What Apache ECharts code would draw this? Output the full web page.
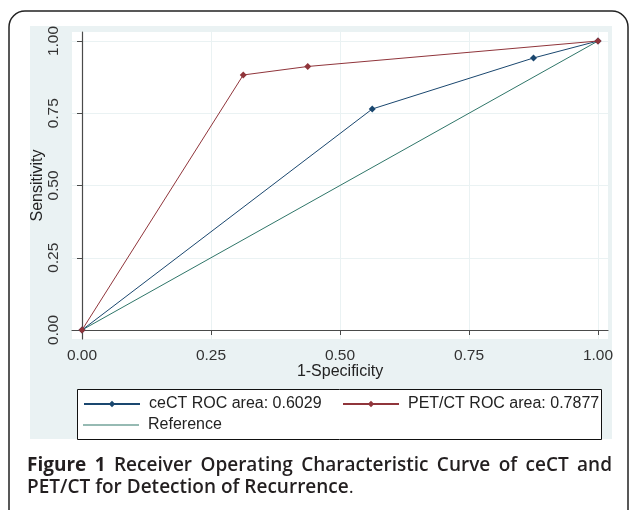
<!DOCTYPE html>
<html><head><meta charset="utf-8">
<script src="https://cdn.jsdelivr.net/npm/echarts@6/dist/echarts.min.js"></script>
<style>html,body{margin:0;padding:0;background:#fff}#c{width:630px;height:510px}</style>
</head><body><div id="c"></div>
<script>
const tickValues = [0, 0.25, 0.5, 0.75, 1];
const tickLabels = ['0.00', '0.25', '0.50', '0.75', '1.00'];
const ceCTx = [0, 0.5625, 0.875, 1];
const ceCTy = [0, 0.7647, 0.9412, 1];
const petx = [0, 0.3125, 0.4375, 1];
const pety = [0, 0.8824, 0.9118, 1];
const refx = [0, 1];
const refy = [0, 1];
const seriesNames = ['ceCT ROC area: 0.6029', 'PET/CT ROC area: 0.7877', 'Reference'];
const xTitle = '1-Specificity';
const yTitle = 'Sensitivity';
const captionBold = ['Figure', '1'];
const captionLine1 = ['Receiver', 'Operating', 'Characteristic', 'Curve', 'of', 'ceCT', 'and'];
const captionLine2 = 'PET/CT for Detection of Recurrence';

const pairs = (xs, ys) => xs.map((x, i) => [x, ys[i]]);
const fmt = v => { const i = tickValues.findIndex(t => Math.abs(t - v) < 1e-9); return i >= 0 ? tickLabels[i] : ''; };
const FONT = '"Liberation Sans", Arial, sans-serif';
const CAPFONT = '"Open Sans", "Noto Sans", sans-serif';
const CAPSIZE = 19;
const BG = '#eaf2f3';

// justified caption line 1: measure words
const ctx = document.createElement('canvas').getContext('2d');
const words = captionBold.map(w => ({w, weight: 'bold'})).concat(captionLine1.map(w => ({w, weight: 600})));
words.forEach(o => { ctx.font = o.weight + ' ' + CAPSIZE + 'px ' + CAPFONT; o.width = ctx.measureText(o.w).width; });
const capLeft = 27, capRight = 612;
const totalW = words.reduce((s, o) => s + o.width, 0);
const gap = (capRight - capLeft - totalW) / (words.length - 1);
let cx = capLeft;
const captionGraphics = words.map(o => {
  const g = {type: 'text', silent: true, x: cx, y: 456, style: {text: o.w, fontFamily: CAPFONT, fontSize: CAPSIZE, fontWeight: o.weight, fill: '#231f20'}};
  cx += o.width + gap;
  return g;
});
captionGraphics.push({type: 'text', silent: true, x: capLeft, y: 478, style: {
  text: '{s|' + captionLine2 + '}{p|.}',
  rich: {s: {fontFamily: CAPFONT, fontSize: CAPSIZE, fontWeight: 600, fill: '#231f20'}, p: {fontFamily: CAPFONT, fontSize: CAPSIZE, fill: '#231f20'}}}});

const legendBase = {itemWidth: 56, itemHeight: 8, itemGap: 0, padding: 0, textStyle: {fontFamily: FONT, fontSize: 16, color: '#222', padding: [0, 0, 0, 4]}};
const REFCOLOR = '#2f7669';

const chart = echarts.init(document.getElementById('c'), null, {renderer: 'canvas'});
chart.setOption({
  animation: false,
  backgroundColor: '#fff',
  grid: {left: 72, right: 22, top: 32, bottom: 171, show: true, backgroundColor: '#fff', borderWidth: 0, containLabel: false},
  xAxis: {
    type: 'value', min: -0.01938, max: 1.01938,
    name: xTitle, nameLocation: 'middle', nameGap: 25, nameMoveOverlap: false,
    nameTextStyle: {fontFamily: FONT, fontSize: 16, color: '#222'},
    axisLine: {show: true, lineStyle: {color: '#4a4a4a', width: 1.2}},
    axisTick: {show: true, length: 5, lineStyle: {color: '#4a4a4a'}, customValues: tickValues},
    axisLabel: {show: true, customValues: tickValues, formatter: fmt, fontFamily: FONT, fontSize: 15.5, color: '#333', margin: 9},
    splitLine: {show: true, lineStyle: {color: BG, width: 1}}
  },
  yAxis: {
    type: 'value', min: -0.0311, max: 1.0311,
    name: yTitle, nameLocation: 'middle', nameGap: 26, nameRotate: 90, nameMoveOverlap: false,
    nameTextStyle: {fontFamily: FONT, fontSize: 16, color: '#222'},
    axisLine: {show: true, lineStyle: {color: '#4a4a4a', width: 1.2}},
    axisTick: {show: true, length: 5, lineStyle: {color: '#4a4a4a'}, customValues: tickValues},
    axisLabel: {show: true, customValues: tickValues, formatter: fmt, rotate: 90, fontFamily: FONT, fontSize: 15.5, color: '#333', margin: 10},
    splitLine: {show: true, lineStyle: {color: BG, width: 1}}
  },
  legend: [
    Object.assign({}, legendBase, {data: [seriesNames[0]], left: 83, top: 396}),
    Object.assign({}, legendBase, {data: [seriesNames[1]], left: 342, top: 396}),
    Object.assign({}, legendBase, {data: [{name: seriesNames[2], icon: 'rect'}], left: 83, top: 417, itemHeight: 1.2})
  ],
  graphic: [
    {type: 'rect', z: -20, silent: true, shape: {x: 9, y: 11, width: 619, height: 520, r: 16}, style: {fill: '#fff', stroke: '#222', lineWidth: 1.5}},
    {type: 'rect', z: -10, silent: true, shape: {x: 30, y: 26, width: 582, height: 413}, style: {fill: BG}},
    {type: 'rect', z: -5, silent: true, shape: {x: 77.5, y: 389.5, width: 524, height: 50}, style: {fill: '#fff', stroke: '#111', lineWidth: 1}}
  ].concat(captionGraphics),
  series: [
    {name: seriesNames[2], type: 'line', data: pairs(refx, refy), symbol: 'none', lineStyle: {color: REFCOLOR, width: 1}, itemStyle: {color: REFCOLOR}, z: 2},
    {name: seriesNames[0], type: 'line', data: pairs(ceCTx, ceCTy), symbol: 'diamond', symbolSize: 7, showSymbol: true, lineStyle: {color: '#1a476f', width: 1}, itemStyle: {color: '#1a476f'}, z: 3},
    {name: seriesNames[1], type: 'line', data: pairs(petx, pety), symbol: 'diamond', symbolSize: 7, showSymbol: true, lineStyle: {color: '#90353b', width: 1}, itemStyle: {color: '#90353b'}, z: 4}
  ]
});
</script></body></html>
